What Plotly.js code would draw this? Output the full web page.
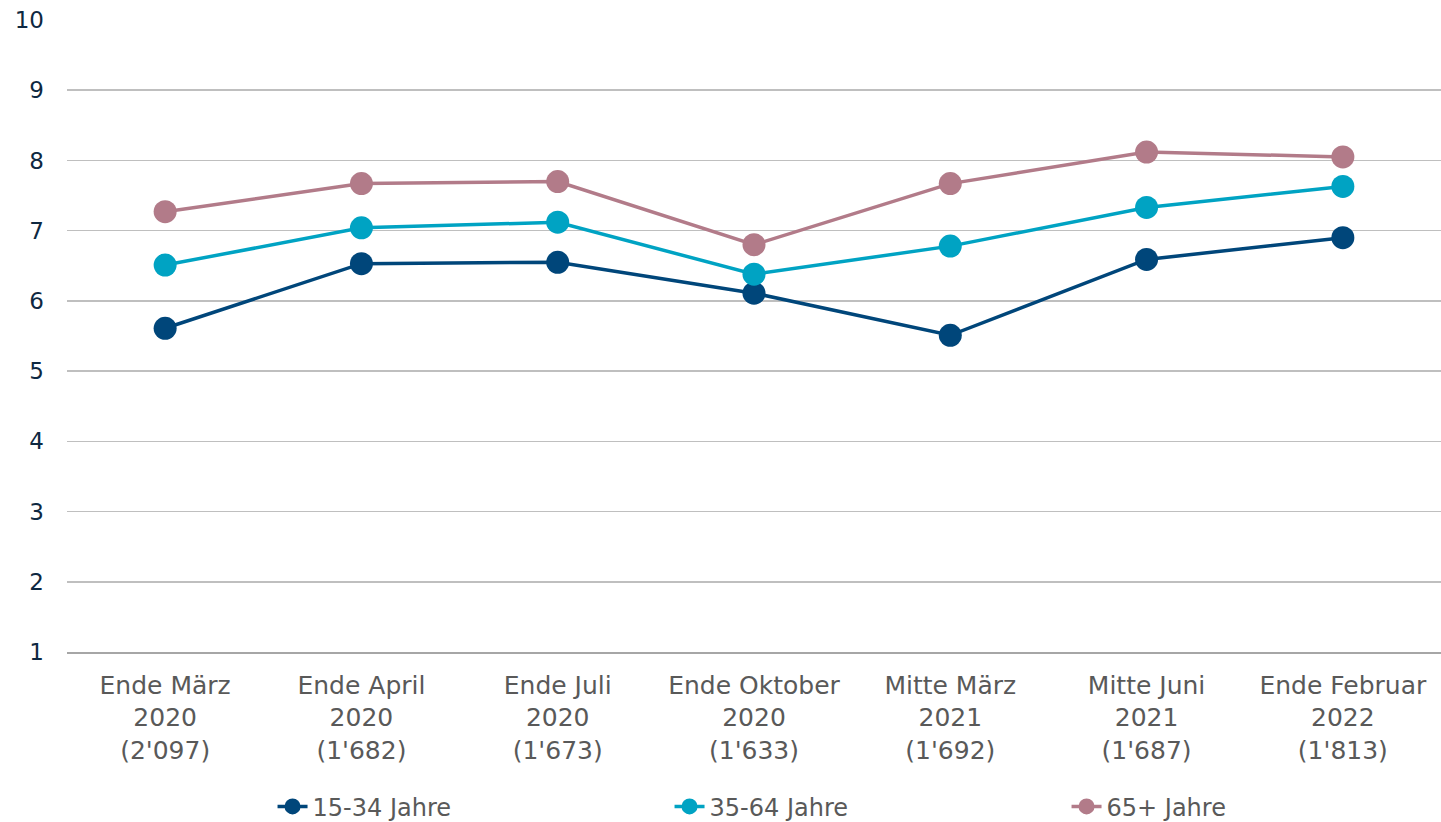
<!DOCTYPE html>
<html>
<head>
<meta charset="utf-8">
<script src="https://cdn.plot.ly/plotly-3.0.1.min.js"></script>
<style>html,body{margin:0;padding:0;background:#fff;}#chart{width:1441px;height:822px;}</style>
</head>
<body>
<div id="chart"></div>
<script>
const categories = [
  "Ende März<br>2020<br>(2'097)",
  "Ende April<br>2020<br>(1'682)",
  "Ende Juli<br>2020<br>(1'673)",
  "Ende Oktober<br>2020<br>(1'633)",
  "Mitte März<br>2021<br>(1'692)",
  "Mitte Juni<br>2021<br>(1'687)",
  "Ende Februar<br>2022<br>(1'813)"
];
const seriesNames = ["15-34 Jahre", "35-64 Jahre", "65+ Jahre"];
const age15_34 = [5.61, 6.53, 6.55, 6.11, 5.51, 6.59, 6.90];
const age35_64 = [6.51, 7.04, 7.12, 6.38, 6.78, 7.33, 7.63];
const age65plus = [7.27, 7.67, 7.70, 6.80, 7.67, 8.12, 8.05];
const yTicks = [1,2,3,4,5,6,7,8,9,10];

const colors = ["#00467a", "#00a3c3", "#b27b89"];
const values = [age15_34, age35_64, age65plus];

const traces = values.map((v, i) => ({
  type: "scatter",
  mode: "lines+markers",
  x: categories,
  y: v,
  name: seriesNames[i],
  line: {color: colors[i], width: 3.5},
  marker: {color: colors[i], size: 23}
}));

const layout = {
  width: 1441, height: 822,
  margin: {l: 67, r: 0, t: 20, b: 170, autoexpand: false},
  paper_bgcolor: "#fff", plot_bgcolor: "#fff",
  font: {family: "DejaVu Sans, sans-serif", size: 25, color: "#595959"},
  showlegend: true,
  legend: {
    orientation: "h", x: 0.583, xanchor: "center", y: -0.245, yanchor: "middle",
    entrywidth: 352, entrywidthmode: "pixels",
    font: {size: 24, color: "#595959"}
  },
  xaxis: {
    type: "category",
    showgrid: false, zeroline: false,
    showline: true, linecolor: "#a6a6a6", linewidth: 1.5,
    ticks: "", tickfont: {size: 25, color: "#595959"}, ticklabelstandoff: 10,
    range: [-0.5, 6.5]
  },
  yaxis: {
    range: [1, 10], tickvals: yTicks, ticktext: yTicks.map(String),
    showgrid: true, gridcolor: "#bfbfbf", gridwidth: 1.5,
    zeroline: false, showline: false, ticks: "",
    tickfont: {size: 23, color: "#0e2841"}, ticklabelstandoff: 22
  }
};

Plotly.newPlot("chart", traces, layout, {displayModeBar: false, staticPlot: true});
</script>
</body>
</html>
